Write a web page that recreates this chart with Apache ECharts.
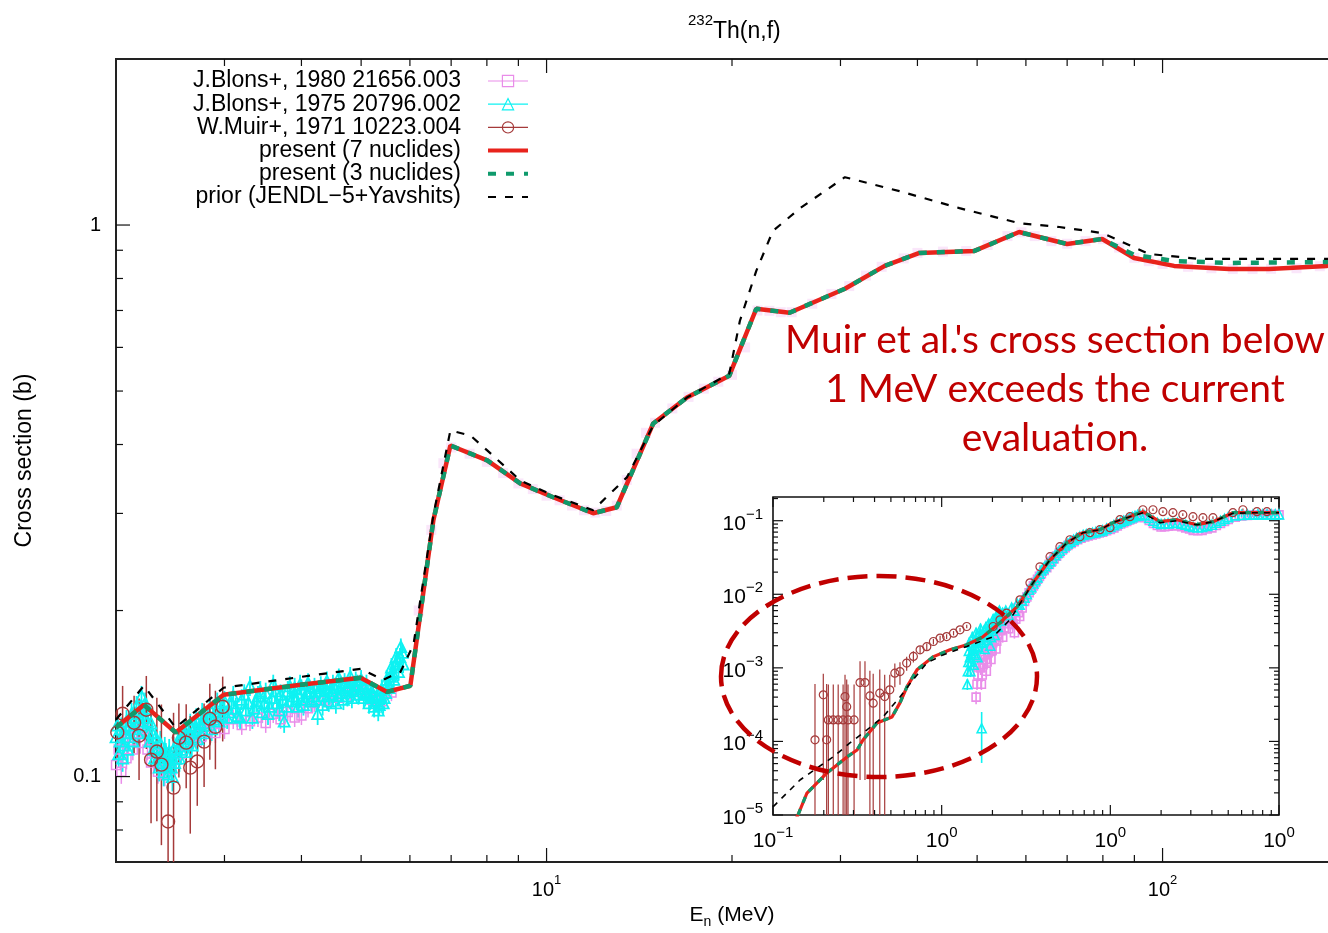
<!DOCTYPE html>
<html>
<head>
<meta charset="utf-8">
<title>232Th(n,f)</title>
<script src="https://cdn.jsdelivr.net/npm/echarts@6.0.0/dist/echarts.min.js"></script>
<style>
  html, body { margin: 0; padding: 0; background: #fff; }
  #chart { width: 1328px; height: 933px; }
</style>
</head>
<body>
<div id="chart"></div>
<script>
// main panel: E (MeV), cross section (b)
const present7 = [[2.0,0.1227],[2.22,0.1349],[2.50,0.1202],[2.99,0.1407],[3.99,0.1467],[4.99,0.1510],[5.51,0.1424],[6.01,0.1461],[6.55,0.2915],[6.98,0.3984],[8.01,0.3743],[9.06,0.3401],[10.25,0.3209],[11.9,0.3002],[13.0,0.3078],[14.9,0.4368],[16.9,0.4866],[19.8,0.5332],[21.9,0.7050],[24.8,0.6934],[30.5,0.7664],[35.4,0.8432],[40.3,0.8901],[49.5,0.8975],[58.5,0.9712],[70.0,0.9238],[79.8,0.9434],[89.9,0.8716],[104.4,0.8432],[128.2,0.8325],[148.8,0.8325],[184.8,0.8432],[200,0.845]];
const present3 = [[2.0,0.1227],[2.22,0.1349],[2.50,0.1202],[2.99,0.1407],[3.99,0.1467],[4.99,0.1510],[5.51,0.1424],[6.01,0.1461],[6.55,0.2915],[6.98,0.3984],[8.01,0.3743],[9.06,0.3401],[10.25,0.3209],[11.9,0.3002],[13.0,0.3078],[14.9,0.4368],[16.9,0.4866],[19.8,0.5332],[21.9,0.7050],[24.8,0.6934],[30.5,0.7664],[35.4,0.8432],[40.3,0.8901],[49.5,0.8975],[58.5,0.9712],[70.0,0.9238],[79.8,0.9434],[89.9,0.8827],[104.4,0.8607],[128.2,0.8536],[148.8,0.855],[184.8,0.857],[200,0.858]];
const prior = [[2.0,0.1268],[2.22,0.1461],[2.50,0.1227],[2.99,0.1449],[3.99,0.1516],[4.99,0.1568],[5.43,0.1498],[5.79,0.1548],[6.08,0.1733],[6.55,0.2977],[6.98,0.4241],[7.52,0.4154],[8.01,0.3903],[9.06,0.3444],[10.25,0.3236],[11.9,0.3040],[12.5,0.3209],[13.5,0.3487],[14.9,0.4331],[16.9,0.4866],[19.8,0.5378],[20.6,0.6706],[21.9,0.8257],[23.3,0.9754],[25.8,1.073],[30.5,1.221],[37.4,1.152],[46.8,1.073],[58.5,1.008],[68.0,0.9917],[79.8,0.9672],[95.1,0.8862],[114.6,0.868],[200,0.868]];
// [E, sigma, error]
const muir = [[2.01,0.1202,0.012],[2.05,0.1300,0.016],[2.14,0.1252,0.015],[2.18,0.1186,0.02],[2.24,0.1322,0.02],[2.28,0.1073,0.025],[2.33,0.1110,0.028],[2.37,0.1051,0.03],[2.43,0.0829,0.03],[2.48,0.0955,0.035],[2.53,0.1176,0.018],[2.60,0.1152,0.02],[2.64,0.1038,0.025],[2.71,0.1065,0.018],[2.78,0.1157,0.02],[2.84,0.1273,0.02],[2.90,0.1231,0.02],[2.98,0.1338,0.018]];
const blons1975 = [[2.00,0.118,0.006],[2.01,0.124,0.006],[2.02,0.110,0.006],[2.03,0.116,0.006],[2.04,0.122,0.006],[2.05,0.108,0.006],[2.06,0.114,0.006],[2.07,0.120,0.006],[2.08,0.126,0.006],[2.09,0.112,0.006],[2.10,0.118,0.006],[2.11,0.124,0.006],[2.12,0.130,0.006],[2.13,0.116,0.006],[2.14,0.122,0.006],[2.15,0.128,0.006],[2.16,0.134,0.006],[2.17,0.120,0.006],[2.18,0.126,0.006],[2.19,0.132,0.006],[2.20,0.140,0.006],[2.21,0.124,0.006],[2.22,0.128,0.006],[2.23,0.136,0.006],[2.24,0.133,0.006],[2.25,0.126,0.006],[2.26,0.120,0.006],[2.27,0.116,0.006],[2.28,0.125,0.006],[2.29,0.120,0.006],[2.30,0.112,0.006],[2.31,0.108,0.006],[2.32,0.118,0.006],[2.33,0.113,0.006],[2.34,0.108,0.006],[2.35,0.104,0.006],[2.36,0.115,0.006],[2.37,0.110,0.006],[2.38,0.106,0.006],[2.39,0.102,0.006],[2.40,0.112,0.006],[2.41,0.109,0.006],[2.42,0.105,0.006],[2.43,0.101,0.006],[2.44,0.111,0.006],[2.45,0.107,0.006],[2.46,0.104,0.006],[2.47,0.100,0.006],[2.48,0.112,0.006],[2.49,0.106,0.006],[2.50,0.108,0.006],[2.51,0.112,0.006],[2.52,0.116,0.006],[2.535,0.108,0.006],[2.55,0.112,0.006],[2.565,0.117,0.006],[2.58,0.120,0.006],[2.595,0.111,0.006],[2.61,0.115,0.006],[2.625,0.120,0.006],[2.64,0.124,0.006],[2.655,0.114,0.006],[2.67,0.118,0.006],[2.685,0.123,0.006],[2.70,0.127,0.006],[2.715,0.117,0.006],[2.73,0.121,0.006],[2.745,0.125,0.006],[2.76,0.130,0.006],[2.78,0.120,0.006],[2.80,0.124,0.006],[2.82,0.128,0.006],[2.84,0.133,0.006],[2.86,0.122,0.006],[2.88,0.127,0.006],[2.90,0.131,0.006],[2.92,0.136,0.006],[2.94,0.126,0.006],[2.96,0.129,0.006],[2.98,0.133,0.006],[3.00,0.137,0.006],[3.03,0.128,0.006],[3.05,0.131,0.006],[3.08,0.136,0.006],[3.10,0.140,0.006],[3.13,0.133,0.006],[3.15,0.129,0.006],[3.18,0.128,0.006],[3.20,0.138,0.006],[3.23,0.141,0.006],[3.25,0.132,0.006],[3.28,0.136,0.006],[3.30,0.146,0.006],[3.33,0.128,0.006],[3.35,0.133,0.006],[3.38,0.137,0.006],[3.40,0.140,0.006],[3.43,0.143,0.006],[3.45,0.131,0.006],[3.48,0.136,0.006],[3.50,0.142,0.006],[3.53,0.130,0.006],[3.55,0.134,0.006],[3.58,0.139,0.006],[3.60,0.147,0.006],[3.63,0.143,0.006],[3.65,0.136,0.006],[3.68,0.132,0.006],[3.70,0.141,0.006],[3.73,0.138,0.006],[3.75,0.126,0.006],[3.78,0.134,0.006],[3.80,0.143,0.006],[3.83,0.146,0.006],[3.85,0.137,0.006],[3.88,0.140,0.006],[3.90,0.145,0.006],[3.93,0.138,0.006],[3.95,0.134,0.006],[3.98,0.147,0.006],[4.00,0.144,0.006],[4.03,0.135,0.006],[4.05,0.138,0.006],[4.08,0.142,0.006],[4.10,0.148,0.006],[4.13,0.143,0.006],[4.15,0.137,0.006],[4.18,0.140,0.006],[4.20,0.145,0.006],[4.23,0.138,0.006],[4.25,0.130,0.006],[4.28,0.143,0.006],[4.30,0.146,0.006],[4.33,0.135,0.006],[4.35,0.140,0.006],[4.38,0.145,0.006],[4.40,0.149,0.006],[4.43,0.137,0.006],[4.45,0.141,0.006],[4.48,0.143,0.006],[4.50,0.147,0.006],[4.53,0.145,0.006],[4.55,0.136,0.006],[4.58,0.140,0.006],[4.60,0.151,0.006],[4.63,0.146,0.006],[4.65,0.142,0.006],[4.68,0.138,0.006],[4.70,0.148,0.006],[4.73,0.145,0.006],[4.75,0.140,0.006],[4.78,0.146,0.006],[4.80,0.152,0.006],[4.83,0.139,0.006],[4.85,0.143,0.006],[4.88,0.146,0.006],[4.90,0.149,0.006],[4.93,0.147,0.006],[4.95,0.141,0.006],[4.98,0.144,0.006],[5.00,0.150,0.006],[5.03,0.146,0.006],[5.05,0.139,0.006],[5.08,0.142,0.006],[5.10,0.147,0.006],[5.13,0.141,0.006],[5.15,0.136,0.006],[5.18,0.139,0.006],[5.20,0.143,0.006],[5.23,0.140,0.006],[5.25,0.134,0.006],[5.28,0.137,0.006],[5.30,0.140,0.006],[5.33,0.132,0.006],[5.35,0.135,0.006],[5.38,0.140,0.006],[5.40,0.144,0.006],[5.43,0.136,0.006],[5.45,0.139,0.006],[5.48,0.142,0.006],[5.50,0.150,0.006],[5.53,0.148,0.006],[5.55,0.145,0.006],[5.58,0.152,0.006],[5.60,0.158,0.006],[5.63,0.154,0.006],[5.65,0.150,0.006],[5.68,0.160,0.006],[5.70,0.165,0.006],[5.73,0.162,0.006],[5.75,0.155,0.006],[5.78,0.165,0.006],[5.80,0.172,0.006],[5.83,0.168,0.006],[5.85,0.160,0.006]];
const blons1980 = [[2.00,0.105,0.005],[2.02,0.112,0.005],[2.04,0.102,0.005],[2.06,0.115,0.005],[2.08,0.108,0.005],[2.10,0.118,0.005],[2.13,0.112,0.005],[2.16,0.120,0.005],[2.19,0.115,0.005],[2.22,0.122,0.005],[2.25,0.112,0.005],[2.28,0.106,0.005],[2.31,0.110,0.005],[2.34,0.102,0.005],[2.37,0.107,0.005],[2.40,0.101,0.005],[2.43,0.106,0.005],[2.46,0.103,0.005],[2.50,0.108,0.005],[2.55,0.110,0.005],[2.60,0.114,0.005],[2.65,0.116,0.005],[2.70,0.119,0.005],[2.75,0.118,0.005],[2.80,0.121,0.005],[2.85,0.123,0.005],[2.90,0.120,0.005],[2.95,0.125,0.005],[3.00,0.122,0.005],[3.10,0.127,0.005],[3.20,0.124,0.005],[3.30,0.126,0.005],[3.40,0.128,0.005],[3.50,0.125,0.005],[3.60,0.130,0.005],[3.70,0.127,0.005],[3.80,0.131,0.005],[3.90,0.128,0.005],[4.00,0.129,0.005],[4.10,0.133,0.005],[4.20,0.136,0.005],[4.40,0.137,0.005],[4.60,0.139,0.005],[4.80,0.141,0.005],[5.00,0.143,0.005],[5.20,0.138,0.005],[5.40,0.137,0.005],[5.60,0.142,0.005]];
// J.Blons 1980 above 6 MeV, hidden under the evaluation
const blons1980High = [[6.2,0.20],[6.5,0.28],[6.8,0.37],[7.0,0.395],[7.5,0.385],[8.0,0.372],[8.5,0.355],[9.0,0.340],[9.5,0.332],[10,0.323],[10.5,0.317],[11,0.310],[11.5,0.304],[12,0.301],[12.5,0.303],[13,0.310],[13.5,0.345],[14,0.385],[14.5,0.42],[15,0.438],[16,0.465],[17,0.488],[18,0.505],[19,0.52],[20,0.535],[21,0.60],[22,0.70],[23,0.699],[24,0.695],[25,0.695],[27,0.72],[29,0.75],[31,0.775],[33,0.81],[35,0.84],[38,0.87],[40,0.89],[44,0.895],[48,0.897],[52,0.92],[56,0.955],[59,0.97],[62,0.955],[66,0.935],[70,0.925],[75,0.935],[80,0.943],[85,0.91],[90,0.872],[95,0.86],[100,0.85],[110,0.84],[120,0.835],[130,0.832],[140,0.832],[150,0.833],[165,0.835],[180,0.842],[195,0.845]];

// inset panel
const insetPresent7 = [[0.13,7e-6],[0.1406,1.0e-5],[0.159,1.99e-5],[0.209,3.73e-5],[0.2746,6.15e-5],[0.315,7.66e-5],[0.3416,1.047e-4],[0.4136,1.786e-4],[0.5075,2.15e-4],[0.566,3.34e-4],[0.6225,5.51e-4],[0.714,9.39e-4],[0.888,1.41e-3],[1.12,1.76e-3],[1.41,2.06e-3],[1.757,2.64e-3],[2.216,4.1e-3],[2.795,6.76e-3],[3.48,0.01433],[4.385,0.02944],[5.53,0.0502],[6.88,0.0687],[8.68,0.0755],[10.36,0.094],[12.54,0.11],[15.61,0.1326],[19.7,0.0969],[24.8,0.1032],[32.6,0.0883],[40.6,0.0969],[53.3,0.1286],[70.0,0.1286],[100,0.1286]];
const insetPresent3 = [[0.13,7e-6],[0.1406,1.0e-5],[0.159,1.99e-5],[0.209,3.73e-5],[0.2746,6.15e-5],[0.315,7.66e-5],[0.3416,1.047e-4],[0.4136,1.786e-4],[0.5075,2.15e-4],[0.566,3.34e-4],[0.6225,5.51e-4],[0.714,9.39e-4],[0.888,1.41e-3],[1.12,1.76e-3],[1.41,2.06e-3],[1.757,2.64e-3],[2.216,4.1e-3],[2.795,6.76e-3],[3.48,0.01433],[4.385,0.02944],[5.53,0.0502],[6.88,0.0687],[8.68,0.0755],[10.36,0.094],[12.54,0.11],[15.61,0.1326],[19.7,0.0969],[24.8,0.1032],[32.6,0.0883],[40.6,0.0969],[53.3,0.1286],[70.0,0.1286],[100,0.1286]];
const insetPrior = [[0.1,1.29e-5],[0.121,1.99e-5],[0.1445,2.99e-5],[0.1824,4.35e-5],[0.2269,6.15e-5],[0.286,9.54e-5],[0.3607,1.434e-4],[0.4487,2.15e-4],[0.566,4.03e-4],[0.676,6.87e-4],[0.818,1.17e-3],[1.018,1.5e-3],[1.41,1.95e-3],[2.01,2.64e-3],[2.54,4.5e-3],[3.48,0.0143],[4.385,0.0294],[5.53,0.0502],[6.88,0.0687],[8.68,0.0755],[10.36,0.094],[12.54,0.11],[15.61,0.128],[19.7,0.094],[24.8,0.100],[32.6,0.088],[40.6,0.097],[53.3,0.126],[70,0.128],[100,0.128]];
const insetMuir = [[0.1774,1.05e-4,5e-4],[0.1987,4.3e-4,4e-4],[0.208,1.05e-4,5e-4],[0.2129,1.96e-4,4e-4],[0.2277,1.96e-4,4e-4],[0.2435,1.96e-4,4e-4],[0.2604,1.96e-4,4e-4],[0.2673,4.07e-4,4e-4],[0.2735,2.97e-4,4e-4],[0.2785,1.96e-4,4e-4],[0.3025,1.96e-4,4e-4],[0.3281,6.3e-4,6e-4],[0.351,6.3e-4,6e-4],[0.3754,4.16e-4,5e-4],[0.3927,3.31e-4,5e-4],[0.4296,4.53e-4,5e-4],[0.4594,4.07e-4,4e-4],[0.4924,5.03e-4,3e-4],[0.5276,8.47e-4,3e-4],[0.566,8.9e-4,3e-4],[0.6201,1.16e-3,2.5e-4],[0.6797,1.43e-3,2.5e-4],[0.745,1.76e-3,2e-4],[0.816,1.94e-3,2e-4],[0.8935,2.28e-3,2e-4],[0.979,2.54e-3,2e-4],[1.07,2.66e-3,2e-4],[1.176,2.96e-3,2e-4],[1.285,3.29e-3,2e-4],[1.408,3.65e-3,2e-4],[2.02,3.65e-3,2e-4],[2.216,4.5e-3,2e-4],[2.428,5.55e-3,3e-4],[2.912,8.41e-3,4e-4],[3.337,0.01433,6e-4],[3.826,0.02365,1e-3],[4.39,0.0324,1.3e-3],[5.026,0.0443,1.8e-3],[5.76,0.0551,2e-3],[6.6,0.0605,2e-3],[7.57,0.0687,2.5e-3],[8.68,0.0755,2.5e-3],[9.95,0.0803,3e-3],[11.4,0.1032,4e-3],[13.07,0.1134,4e-3],[15.6,0.141,5e-3],[17.9,0.141,5e-3],[20.5,0.1325,5e-3],[23.5,0.1286,5e-3],[26.9,0.1208,5e-3],[30.9,0.1134,5e-3],[35.4,0.11,5e-3],[40.6,0.11,5e-3],[53.3,0.1286,5e-3],[61.1,0.141,5e-3],[74.0,0.1325,5e-3],[84.8,0.1325,5e-3]];
const insetBlons1975 = [[1.42,6.0e-4,1e-4],[1.43,9.0e-4,1.5e-4],[1.44,1.2e-3,2e-4],[1.45,1.7e-3,3e-4],[1.46,2.2e-3,4e-4],[1.47,1.4e-3,2.5e-4],[1.48,9.0e-4,1.5e-4],[1.49,1.2e-3,2e-4],[1.50,1.6e-3,3e-4],[1.51,2.0e-3,4e-4],[1.52,2.6e-3,5e-4],[1.54,1.8e-3,3e-4],[1.55,1.1e-3,2e-4],[1.57,1.5e-3,3e-4],[1.58,2.0e-3,4e-4],[1.59,2.5e-3,5e-4],[1.60,3.0e-3,5e-4],[1.62,2.2e-3,4e-4],[1.63,1.4e-3,2.5e-4],[1.65,1.9e-3,3e-4],[1.66,2.4e-3,4e-4],[1.68,2.9e-3,5e-4],[1.70,3.4e-3,6e-4],[1.726,1.51e-4,1e-4],[1.74,2.2e-3,4e-4],[1.76,2.8e-3,5e-4],[1.78,3.2e-3,5e-4],[1.80,1.8e-3,3e-4],[1.82,2.6e-3,4e-4],[1.83,3.6e-3,6e-4],[1.85,3.0e-3,5e-4],[1.87,2.4e-3,4e-4],[1.89,3.4e-3,5e-4],[1.90,4.0e-3,6e-4],[1.92,2.8e-3,4e-4],[1.94,2.0e-3,3e-4],[1.96,2.6e-3,4e-4],[1.98,3.2e-3,5e-4],[2.00,3.9e-3,6e-4],[2.02,4.6e-3,7e-4],[2.04,3.6e-3,5e-4],[2.06,2.8e-3,4e-4],[2.08,4.2e-3,6e-4],[2.10,5.0e-3,7e-4],[2.12,4.3e-3,6e-4],[2.15,3.6e-3,5e-4],[2.18,5.0e-3,7e-4],[2.20,6.0e-3,8e-4],[2.22,5.2e-3,7e-4],[2.25,4.4e-3,6e-4],[2.3,5.6e-3,7e-4],[2.4,6.0e-3,7e-4],[2.5,5.2e-3,6e-4],[2.6,6.6e-3,8e-4],[2.7,6.0e-3,7e-4],[2.8,7.5e-3,8e-4],[2.9,7.2e-3,8e-4],[3.0,8.2e-3,9e-4],[3.1,9.0e-3,1e-3],[3.2,1.0e-2,1.1e-3],[3.3,0.0115,1.3e-3],[3.4,0.0125,1.4e-3],[3.5,0.0140,1.5e-3],[3.6,0.0155,1.7e-3],[3.7,0.0170,1.8e-3],[3.8,0.0190,2e-3],[3.9,0.0210,2.2e-3],[4.0,0.0225,2.4e-3],[4.1,0.0240,2.5e-3],[4.25,0.0260,2.8e-3],[4.4,0.0280,3e-3],[4.55,0.0310,3.2e-3],[4.7,0.0340,3.5e-3],[4.85,0.0365,3.8e-3],[5.0,0.0390,4e-3],[5.2,0.0425,4e-3],[5.4,0.0460,4.5e-3],[5.6,0.0490,5e-3],[5.8,0.0520,5e-3],[6.05,0.0550,5e-3],[6.3,0.0580,5e-3],[6.6,0.0610,5e-3],[6.9,0.0640,5e-3],[7.2,0.0655,5e-3],[7.5,0.0670,5e-3],[7.85,0.0685,5e-3],[8.2,0.0700,5e-3],[8.6,0.0720,6e-3],[9.0,0.0740,6e-3],[9.5,0.0780,6e-3],[10,0.0820,6e-3],[10.5,0.0870,6e-3],[11,0.0920,7e-3],[11.5,0.0960,7e-3],[12,0.100,8e-3],[12.5,0.104,8e-3],[13,0.108,8e-3],[13.5,0.112,8e-3],[14,0.116,8e-3],[14.5,0.119,8e-3],[15,0.122,8e-3],[16,0.118,8e-3],[17,0.109,8e-3],[18,0.100,8e-3],[19,0.094,8e-3],[20,0.090,8e-3],[21,0.091,8e-3],[22,0.092,8e-3],[23.5,0.093,8e-3],[25,0.094,8e-3],[26.5,0.091,8e-3],[28,0.088,8e-3],[29.5,0.085,8e-3],[31,0.082,8e-3],[33,0.081,8e-3],[35,0.082,8e-3],[37.5,0.085,8e-3],[40,0.088,8e-3],[42.5,0.094,8e-3],[45,0.100,8e-3],[47.5,0.106,8e-3],[50,0.112,8e-3],[55,0.118,8e-3],[60,0.120,8e-3],[65,0.121,8e-3],[70,0.121,8e-3],[75,0.122,8e-3],[80,0.122,8e-3],[85,0.122,8e-3],[90,0.122,8e-3],[95,0.122,8e-3],[100,0.122,8e-3]];
const insetBlons1980 = [[1.60,4.0e-4,8e-5],[1.62,6.0e-4,1e-4],[1.64,8.0e-4,1.5e-4],[1.66,1.1e-3,2e-4],[1.68,1.5e-3,3e-4],[1.70,1.0e-3,2e-4],[1.72,6.0e-4,1e-4],[1.74,8.0e-4,1.5e-4],[1.76,1.1e-3,2e-4],[1.78,1.5e-3,3e-4],[1.80,2.0e-3,4e-4],[1.82,1.3e-3,2.5e-4],[1.84,9.0e-4,1.5e-4],[1.86,1.2e-3,2e-4],[1.88,1.6e-3,3e-4],[1.90,2.1e-3,4e-4],[1.92,2.6e-3,5e-4],[1.94,1.8e-3,3e-4],[1.96,1.3e-3,2.5e-4],[1.98,1.7e-3,3e-4],[2.00,2.2e-3,4e-4],[2.02,2.7e-3,5e-4],[2.05,3.2e-3,5e-4],[2.07,2.4e-3,4e-4],[2.10,1.8e-3,3e-4],[2.12,2.3e-3,4e-4],[2.15,2.8e-3,5e-4],[2.18,3.4e-3,5e-4],[2.20,4.0e-3,6e-4],[2.25,3.2e-3,5e-4],[2.30,2.6e-3,4e-4],[2.35,3.5e-3,5e-4],[2.40,4.5e-3,6e-4],[2.45,4.0e-3,6e-4],[2.50,3.4e-3,5e-4],[2.55,4.3e-3,6e-4],[2.60,5.2e-3,7e-4],[2.65,4.0e-3,6e-4],[2.70,3.0e-3,5e-4],[2.75,4.6e-3,6e-4],[2.80,6.5e-3,8e-4],[2.85,5.6e-3,7e-4],[2.90,5.0e-3,7e-4],[3.00,6.5e-3,8e-4],[3.10,8.0e-3,9e-4],[3.20,9.2e-3,1e-3],[3.30,0.0105,1.2e-3],[3.40,0.0117,1.3e-3],[3.50,0.013,1.4e-3],[3.60,0.0145,1.6e-3],[3.70,0.016,1.8e-3],[3.80,0.0175,2e-3],[3.90,0.019,2.1e-3],[4.05,0.021,2.3e-3],[4.20,0.023,2.5e-3],[4.35,0.0255,2.8e-3],[4.50,0.028,3e-3],[4.65,0.0305,3.2e-3],[4.80,0.033,3.4e-3],[5.00,0.0365,3.7e-3],[5.20,0.040,4e-3],[5.40,0.043,4e-3],[5.60,0.046,4.5e-3],[5.85,0.049,4.5e-3],[6.10,0.052,5e-3],[6.40,0.055,5e-3],[6.70,0.058,5e-3],[7.05,0.060,5e-3],[7.40,0.062,5e-3],[7.80,0.064,5e-3],[8.20,0.066,5e-3],[8.60,0.068,5e-3],[9.0,0.070,6e-3],[9.5,0.073,6e-3],[10,0.076,6e-3],[10.5,0.080,6e-3],[11,0.085,7e-3],[11.5,0.090,7e-3],[12,0.094,7e-3],[12.5,0.098,8e-3],[13,0.102,8e-3],[13.5,0.106,8e-3],[14,0.110,8e-3],[14.5,0.113,8e-3],[15,0.115,8e-3],[16,0.110,8e-3],[17,0.101,8e-3],[18,0.092,8e-3],[19,0.086,7e-3],[20,0.082,7e-3],[21,0.083,7e-3],[22,0.084,7e-3],[23.5,0.085,7e-3],[25,0.086,7e-3],[26.5,0.083,7e-3],[28,0.080,7e-3],[29.5,0.077,7e-3],[31,0.074,7e-3],[33,0.073,7e-3],[35,0.074,7e-3],[37.5,0.077,7e-3],[40,0.080,7e-3],[42.5,0.086,7e-3],[45,0.092,8e-3],[47.5,0.098,8e-3],[50,0.104,8e-3],[55,0.112,8e-3],[60,0.116,8e-3],[65,0.118,8e-3],[70,0.119,8e-3],[75,0.120,8e-3],[80,0.121,8e-3],[85,0.121,8e-3],[90,0.121,8e-3],[95,0.121,8e-3],[100,0.120,8e-3]];

// ticks and tick labels
const mainXMajor = [10, 100];
const mainXLabels = ['1', '2'];
const mainXMinor = [3, 4, 5, 6, 7, 8, 9, 20, 30, 40, 50, 60, 70, 80, 90];
const mainYMajor = [0.1, 1];
const mainYLabels = ['0.1', '1'];
const mainYMinor = [0.08, 0.09, 0.2, 0.3, 0.4, 0.5, 0.6, 0.7, 0.8, 0.9];
const insetXMajor = [0.1, 1, 10, 100];
const insetXLabels = ['\u22121', '0', '0', '0'];
const insetXMinor = [0.2, 0.3, 0.4, 0.5, 0.6, 0.7, 0.8, 0.9, 2, 3, 4, 5, 6, 7, 8, 9, 20, 30, 40, 50, 60, 70, 80, 90];
const insetYMajor = [1e-5, 1e-4, 1e-3, 1e-2, 1e-1];
const insetYLabels = ['\u22125', '\u22124', '\u22123', '\u22122', '\u22121'];
const insetYMinor = [2e-5, 3e-5, 4e-5, 5e-5, 6e-5, 7e-5, 8e-5, 9e-5, 2e-4, 3e-4, 4e-4, 5e-4, 6e-4, 7e-4, 8e-4, 9e-4, 2e-3, 3e-3, 4e-3, 5e-3, 6e-3, 7e-3, 8e-3, 9e-3, 2e-2, 3e-2, 4e-2, 5e-2, 6e-2, 7e-2, 8e-2, 9e-2, 0.2];

const F = "'Liberation Sans', Arial, sans-serif";
const FN = "'Liberation Sans Narrow', 'Liberation Sans', sans-serif";
const VIOLET = '#e98de9', CYAN = '#0ef2f2', BROWN = '#a53a3a', RED = '#e8231c', GREEN = '#0f9a6c', NOTE = '#c00000';

const NAMES = {
  b80: 'J.Blons+, 1980 21656.003',
  b75: 'J.Blons+, 1975 20796.002',
  muir: 'W.Muir+, 1971 10223.004',
  p7: 'present (7 nuclides)',
  p3: 'present (3 nuclides)',
  prior: 'prior (JENDL\u22125+Yavshits)'
};

function tickIndex(v, ticks) {
  for (let i = 0; i < ticks.length; i++) {
    if (Math.abs(Math.log10(v) - Math.log10(ticks[i])) < 1e-6) return i;
  }
  return -1;
}

function powerRich(size, supSize) {
  return {
    b: { fontFamily: F, fontSize: size, color: '#000', lineHeight: size + 6, verticalAlign: 'bottom' },
    s: { fontFamily: F, fontSize: supSize, color: '#000', lineHeight: supSize + 1, verticalAlign: 'top' }
  };
}

function tickSeries(values, len, dir, xi, yi, ref, z) {
  return {
    type: 'custom', xAxisIndex: xi, yAxisIndex: yi, silent: true, z: z,
    data: values.map(v => dir === 'x' ? [v, ref] : [ref, v]),
    renderItem: function (params, api) {
      const cs = params.coordSys;
      const p = api.coord([api.value(0), api.value(1)]);
      const st = () => ({ stroke: '#111', lineWidth: 1.2 });
      if (dir === 'x') {
        const yb = cs.y + cs.height, yt = cs.y;
        return { type: 'group', children: [
          { type: 'line', shape: { x1: p[0], y1: yb, x2: p[0], y2: yb - len }, style: st() },
          { type: 'line', shape: { x1: p[0], y1: yt, x2: p[0], y2: yt + len }, style: st() }
        ] };
      }
      const xl = cs.x, xr = cs.x + cs.width;
      return { type: 'group', children: [
        { type: 'line', shape: { x1: xl, y1: p[1], x2: xl + len, y2: p[1] }, style: st() },
        { type: 'line', shape: { x1: xr, y1: p[1], x2: xr - len, y2: p[1] }, style: st() }
      ] };
    }
  };
}

function errSeries(rows, color, width, xi, yi, yMin, z) {
  return {
    type: 'custom', xAxisIndex: xi, yAxisIndex: yi, silent: true, z: z, clip: true,
    data: rows.map(r => [r[0], Math.max(r[1] - r[2], yMin), r[1] + r[2]]),
    encode: { x: 0, y: [1, 2] },
    renderItem: function (params, api) {
      const a = api.coord([api.value(0), api.value(2)]);
      const b = api.coord([api.value(0), api.value(1)]);
      return { type: 'line', shape: { x1: a[0], y1: a[1], x2: b[0], y2: b[1] },
        style: { stroke: color, lineWidth: width } };
    }
  };
}

function pointSeries(name, rows, symbol, size, color, xi, yi, z, bw) {
  return {
    type: 'line', name: name, xAxisIndex: xi, yAxisIndex: yi, z: z,
    data: rows.map(r => [r[0], r[1]]),
    symbol: symbol, symbolSize: size, showSymbol: true,
    lineStyle: { width: 0, color: color },
    itemStyle: { color: 'rgba(0,0,0,0)', borderColor: color, borderWidth: bw || 1.2 },
    emphasis: { disabled: true }
  };
}

function curveSeries(name, rows, color, width, type, xi, yi, z) {
  return {
    type: 'line', name: name, xAxisIndex: xi, yAxisIndex: yi, z: z,
    data: rows, symbol: 'none',
    lineStyle: { color: color, width: width, type: type },
    emphasis: { disabled: true }
  };
}

const chart = echarts.init(document.getElementById('chart'));

const hasEllipse = !!(echarts.graphic && echarts.graphic.getShapeClass && echarts.graphic.getShapeClass('ellipse'));
const ring = hasEllipse
  ? { type: 'ellipse', shape: { cx: 879, cy: 676.5, rx: 158, ry: 100.5 },
      style: { fill: 'none', stroke: NOTE, lineWidth: 4.5, lineDash: [20, 9] }, z: 30, silent: true }
  : { type: 'circle', x: 879, y: 676.5, scaleX: 1.572, shape: { cx: 0, cy: 0, r: 100.5 },
      style: { fill: 'none', stroke: NOTE, lineWidth: 4, lineDash: [14, 6] }, z: 30, silent: true };

const noteFont = "39px Lato, 'Open Sans', sans-serif";

const option = {
  animation: false,
  backgroundColor: '#fff',
  textStyle: { fontFamily: F, color: '#000' },
  title: {
    text: '{s|232}{b|Th(n,f)}',
    left: 683, top: 8,
    textStyle: { fontWeight: 'normal', rich: {
      s: { fontFamily: FN, fontSize: 15, fontWeight: 'normal', color: '#000', lineHeight: 16, verticalAlign: 'top' },
      b: { fontFamily: FN, fontSize: 23, fontWeight: 'normal', color: '#000', lineHeight: 30, verticalAlign: 'bottom' }
    } }
  },
  legend: {
    orient: 'vertical', align: 'right', right: 798, top: 69.5, padding: 0,
    itemWidth: 40, itemHeight: 14, itemGap: 0.2, selectedMode: false,
    textStyle: { fontFamily: F, fontSize: 23, lineHeight: 23, color: '#000', padding: [0, 22, 0, 0] },
    data: [
      { name: NAMES.b80, lineStyle: { width: 1.2 }, itemStyle: { borderWidth: 1.2 } },
      { name: NAMES.b75, lineStyle: { width: 1.2 }, itemStyle: { borderWidth: 1.2 } },
      { name: NAMES.muir, lineStyle: { width: 1.2 }, itemStyle: { borderWidth: 1.2 } },
      { name: NAMES.p7, lineStyle: { width: 4 }, itemStyle: { opacity: 0 } },
      { name: NAMES.p3, lineStyle: { width: 4 }, itemStyle: { opacity: 0 } },
      { name: NAMES.prior, lineStyle: { width: 2 }, itemStyle: { opacity: 0 } }
    ]
  },
  grid: [
    { left: 116, top: 59, width: 1232, height: 803, show: true, borderColor: '#222', borderWidth: 2,
      backgroundColor: 'rgba(0,0,0,0)', outerBoundsMode: 'none' },
    { left: 773, top: 497, width: 506, height: 318, show: true, borderColor: '#111', borderWidth: 1.6,
      backgroundColor: '#fff', z: 10, outerBoundsMode: 'none' }
  ],
  xAxis: [
    { type: 'log', logBase: 10, gridIndex: 0, min: 2, max: 200,
      axisLine: { show: false }, axisTick: { show: false }, splitLine: { show: false },
      axisLabel: { margin: 12, formatter: v => { const i = tickIndex(v, mainXMajor); return i < 0 ? '' : '{b|10}{s|' + mainXLabels[i] + '}'; },
        rich: powerRich(20, 13) },
      name: '{b|E}{sub|n}{b| (MeV)}', nameLocation: 'middle', nameGap: 40,
      nameTextStyle: { rich: {
        b: { fontFamily: F, fontSize: 21, color: '#000', lineHeight: 24, verticalAlign: 'top' },
        sub: { fontFamily: F, fontSize: 14, color: '#000', lineHeight: 14, verticalAlign: 'bottom' }
      } } },
    { type: 'log', logBase: 10, gridIndex: 1, min: 0.1, max: 100, z: 12,
      axisLine: { show: false }, axisTick: { show: false }, splitLine: { show: false },
      axisLabel: { margin: 10, formatter: v => { const i = tickIndex(v, insetXMajor); return i < 0 ? '' : '{b|10}{s|' + insetXLabels[i] + '}'; },
        rich: powerRich(21, 15) } }
  ],
  yAxis: [
    { type: 'log', logBase: 10, gridIndex: 0, min: 0.07, max: 2,
      axisLine: { show: false }, axisTick: { show: false }, splitLine: { show: false },
      axisLabel: { margin: 15, fontFamily: F, fontSize: 20, color: '#000',
        formatter: v => { const i = tickIndex(v, mainYMajor); return i < 0 ? '' : mainYLabels[i]; } },
      name: 'Cross section (b)', nameLocation: 'middle', nameGap: 80, nameRotate: 90,
      nameTextStyle: { fontFamily: F, fontSize: 23, color: '#000' } },
    { type: 'log', logBase: 10, gridIndex: 1, min: 1e-5, max: 0.21, z: 12,
      axisLine: { show: false }, axisTick: { show: false }, splitLine: { show: false },
      axisLabel: { margin: 10, formatter: v => { const i = tickIndex(v, insetYMajor); return i < 0 ? '' : '{b|10}{s|' + insetYLabels[i] + '}'; },
        rich: powerRich(21, 15) } }
  ],
  graphic: [
    ring,
    { type: 'text', x: 1055, y: 340, z: 30, silent: true,
      style: { text: "Muir et al.'s cross section below", font: noteFont, fill: NOTE, align: 'center', verticalAlign: 'middle' } },
    { type: 'text', x: 1055, y: 389, z: 30, silent: true,
      style: { text: '1 MeV exceeds the current', font: noteFont, fill: NOTE, align: 'center', verticalAlign: 'middle' } },
    { type: 'text', x: 1055, y: 438, z: 30, silent: true,
      style: { text: 'evaluation.', font: noteFont, fill: NOTE, align: 'center', verticalAlign: 'middle' } }
  ],
  series: [
    // main panel
    errSeries(blons1980, VIOLET, 1.5, 0, 0, 0.07, 2),
    pointSeries(NAMES.b80, blons1980, 'rect', 9, VIOLET, 0, 0, 2, 1.5),
    Object.assign(pointSeries(NAMES.b80, blons1980High, 'rect', 10, VIOLET, 0, 0, 2),
      { itemStyle: { color: VIOLET, opacity: 0.22, borderWidth: 0 } }),
    errSeries(blons1975, CYAN, 1.8, 0, 0, 0.07, 2),
    pointSeries(NAMES.b75, blons1975, 'triangle', 11, CYAN, 0, 0, 2, 1.8),
    errSeries(muir, BROWN, 1.5, 0, 0, 0.07, 2),
    pointSeries(NAMES.muir, muir, 'circle', 13, BROWN, 0, 0, 2, 1.4),
    curveSeries(NAMES.p7, present7, RED, 4.5, 'solid', 0, 0, 3),
    curveSeries(NAMES.p3, present3, GREEN, 4.5, [8, 10], 0, 0, 3),
    curveSeries(NAMES.prior, prior, '#000', 2.2, [8, 9], 0, 0, 3),
    tickSeries(mainXMajor, 14, 'x', 0, 0, 1, 4),
    tickSeries(mainXMinor, 7, 'x', 0, 0, 1, 4),
    tickSeries(mainYMajor, 14, 'y', 0, 0, 10, 4),
    tickSeries(mainYMinor, 7, 'y', 0, 0, 10, 4),
    // inset panel
    errSeries(insetBlons1980, VIOLET, 1.6, 1, 1, 1e-5, 12),
    pointSeries('inset 1980', insetBlons1980, 'rect', 8, VIOLET, 1, 1, 12, 1.6),
    errSeries(insetBlons1975, CYAN, 1.6, 1, 1, 1e-5, 12),
    pointSeries('inset 1975', insetBlons1975, 'triangle', 9, CYAN, 1, 1, 12, 1.6),
    errSeries(insetMuir, BROWN, 1.2, 1, 1, 1e-5, 12),
    pointSeries('inset Muir', insetMuir, 'circle', 8, BROWN, 1, 1, 12),
    curveSeries('inset p7', insetPresent7, RED, 3.2, 'solid', 1, 1, 13),
    curveSeries('inset p3', insetPresent3, GREEN, 3.2, [6, 7], 1, 1, 13),
    curveSeries('inset prior', insetPrior, '#000', 1.6, [6, 6], 1, 1, 13),
    tickSeries(insetXMajor, 10, 'x', 1, 1, 0.01, 14),
    tickSeries(insetXMinor, 5, 'x', 1, 1, 0.01, 14),
    tickSeries(insetYMajor, 10, 'y', 1, 1, 1, 14),
    tickSeries(insetYMinor, 5, 'y', 1, 1, 1, 14)
  ]
};

chart.setOption(option);
</script>
</body>
</html>
